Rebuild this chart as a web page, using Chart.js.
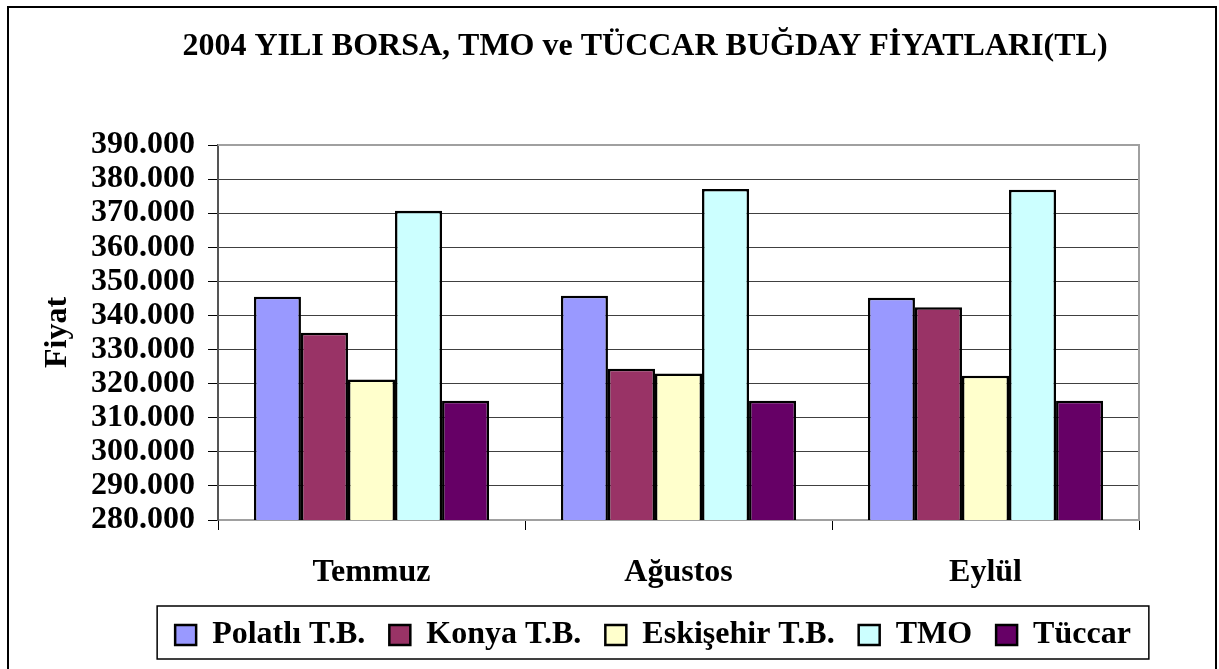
<!DOCTYPE html>
<html>
<head>
<meta charset="utf-8">
<title>2004 Buğday Fiyatları</title>
<script src="https://cdn.jsdelivr.net/npm/chart.js@4"></script>
<style>
  html, body { margin: 0; padding: 0; background: #fff; }
  canvas { display: block; }
</style>
</head>
<body>
<canvas id="myChart" width="1219" height="669"></canvas>
<script>
// veriler (TL)
const months = ['Temmuz', 'Ağustos', 'Eylül'];
const polatli = [345500, 345800, 345200];
const konya = [334900, 324400, 342400];
const eskisehir = [321200, 323000, 322300];
const tmo = [370700, 377100, 376900];
const tuccar = [315000, 315000, 315000];
const yMin = 280000;
const yMax = 390000;
const yStep = 10000;

const serif = "'Liberation Serif', 'Times New Roman', serif";
Chart.defaults.color = '#000';
Chart.defaults.font.family = serif;
Chart.defaults.font.weight = 'bold';
Chart.defaults.font.size = 32;

function fmt(v) {
  return String(v).replace(/\B(?=(\d{3})+(?!\d))/g, '.');
}

// cerceveler ve konum ayarlari
const frames = {
  id: 'frames',
  afterLayout(chart) {
    const t = chart.titleBlock;
    const dx = 645 - (t.left + t.right) / 2;
    t.left += dx; t.right += dx;
    const lg = chart.legend;
    const lx = 653 - (lg.left + lg.right) / 2;
    lg.left += lx; lg.right += lx;
    const h = lg.bottom - lg.top;
    const pad = lg.options.labels.padding;
    lg.top = 635 - 16 - pad;
    lg.bottom = lg.top + h;
  },
  afterDraw(chart) {
    const ctx = chart.ctx;
    const a = chart.chartArea;
    ctx.save();
    // plot alani ust ve sag kenar
    ctx.strokeStyle = '#a0a0a0';
    ctx.lineWidth = 2;
    ctx.beginPath();
    ctx.moveTo(a.left, a.top);
    ctx.lineTo(a.right, a.top);
    ctx.lineTo(a.right, a.bottom);
    ctx.stroke();
    // legend kutusu
    const lg = chart.legend;
    const pad = lg.options.labels.padding;
    const w = lg.lineWidths[0] - pad;
    const cx = (lg.left + lg.right) / 2;
    ctx.strokeStyle = '#000';
    ctx.lineWidth = 1.5;
    ctx.strokeRect(cx - w / 2 - 18, 606, w + 36, 53);
    // dis cerceve
    ctx.lineWidth = 2;
    ctx.strokeRect(8, 7, 1208, 700);
    ctx.restore();
  }
};

const ctx = document.getElementById('myChart');
const mk = (label, data, color) => ({
  label: label,
  data: data,
  backgroundColor: color,
  borderColor: '#000',
  borderWidth: 2.5,
  barPercentage: 1,
  categoryPercentage: 0.766
});

new Chart(ctx, {
  type: 'bar',
  data: {
    labels: months,
    datasets: [
      mk('Polatlı T.B.', polatli, '#9999FF'),
      mk('Konya T.B.', konya, '#993366'),
      mk('Eskişehir T.B.', eskisehir, '#FFFFCC'),
      mk('TMO', tmo, '#CCFFFF'),
      mk('Tüccar', tuccar, '#660066')
    ]
  },
  options: {
    responsive: false,
    animation: false,
    layout: { padding: { left: 0, right: 80, top: 0, bottom: 4 } },
    plugins: {
      title: {
        display: true,
        text: '2004 YILI BORSA, TMO ve TÜCCAR BUĞDAY FİYATLARI(TL)',
        color: '#000',
        font: { size: 32, weight: 'bold', family: serif },
        padding: { top: 28, bottom: 78.6 }
      },
      legend: {
        position: 'bottom',
        labels: {
          color: '#000',
          font: { size: 32, weight: 'bold', family: serif },
          boxWidth: 21,
          boxHeight: 20,
          padding: 24
        }
      },
      tooltip: { enabled: false }
    },
    scales: {
      x: {
        grid: {
          offset: true,
          drawOnChartArea: false,
          drawTicks: true,
          tickLength: 10,
          color: '#000'
        },
        border: { color: '#a0a0a0', width: 2 },
        ticks: { padding: 24, color: '#000' },
        afterFit(scale) { scale.height = 79; }
      },
      y: {
        min: yMin,
        max: yMax,
        grid: { color: '#404040', lineWidth: 1, tickLength: 10, tickColor: '#000' },
        border: { color: '#555', width: 2 },
        ticks: {
          stepSize: yStep,
          autoSkip: false,
          padding: 13,
          color: '#000',
          callback: (v) => fmt(v)
        },
        title: {
          display: true,
          text: 'Fiyat',
          color: '#000',
          font: { size: 32, weight: 'bold', family: serif },
          padding: { top: 39, bottom: 0 }
        },
        afterFit(scale) { scale.width = 218; }
      }
    }
  },
  plugins: [frames]
});
</script>
</body>
</html>
